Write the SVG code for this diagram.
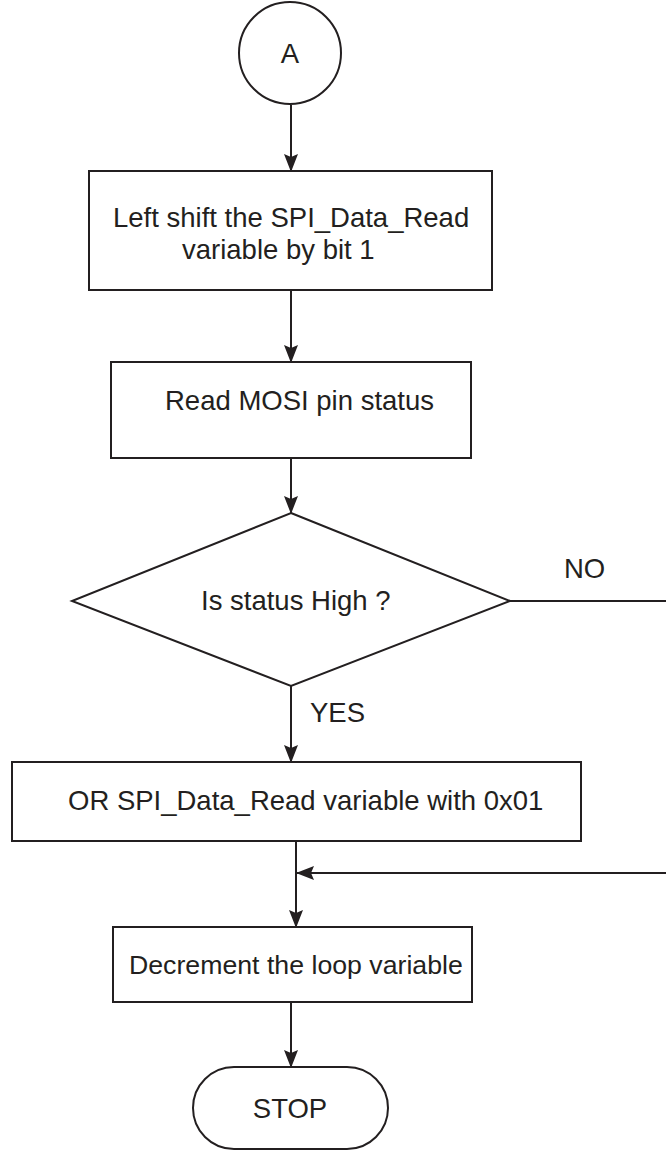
<svg xmlns="http://www.w3.org/2000/svg" width="666" height="1155" viewBox="0 0 666 1155">
<style>
.s{fill:#fff;stroke:#231f20;stroke-width:2}
.c{fill:none;stroke:#231f20;stroke-width:2}
text{font-family:"Liberation Sans",Arial,sans-serif;font-size:27.5px;fill:#231f20}
.m{text-anchor:middle}
</style>
<defs>
<marker id="ah" markerUnits="userSpaceOnUse" markerWidth="18" markerHeight="14" viewBox="0 0 18 14" refX="17" refY="7" orient="auto">
<path d="M0,0 L18,7 L0,14 L3,7 z" fill="#231f20"/>
</marker>
</defs>
<g id="connectors">
<line class="c" x1="291" y1="105" x2="291" y2="171" marker-end="url(#ah)"/>
<line class="c" x1="291" y1="290" x2="291" y2="362" marker-end="url(#ah)"/>
<line class="c" x1="291" y1="458" x2="291" y2="513" marker-end="url(#ah)"/>
<line class="c" x1="291" y1="686" x2="291" y2="762" marker-end="url(#ah)"/>
<line class="c" x1="510" y1="601" x2="666" y2="601"/>
<line class="c" x1="666" y1="873" x2="297" y2="873" marker-end="url(#ah)"/>
<line class="c" x1="296" y1="841" x2="296" y2="927" marker-end="url(#ah)"/>
<line class="c" x1="291" y1="1002" x2="291" y2="1067" marker-end="url(#ah)"/>
<text x="564" y="578">NO</text>
<text x="310" y="722">YES</text>
</g>
<g id="nodeA">
<circle class="s" cx="290" cy="53" r="51"/>
<text class="m" x="290" y="63">A</text>
</g>
<g id="shift">
<rect class="s" x="89" y="171" width="403" height="119"/>
<text x="113" y="227">Left shift the SPI_Data_Read</text>
<text x="182" y="259">variable by bit 1</text>
</g>
<g id="readMOSI">
<rect class="s" x="111" y="362" width="360" height="96"/>
<text x="165" y="410">Read MOSI pin status</text>
</g>
<g id="decision">
<polygon class="s" points="291,513 510,601 291,686 72,601"/>
<text x="201" y="610">Is status High ?</text>
</g>
<g id="orData">
<rect class="s" x="12" y="762" width="569" height="79"/>
<text x="68" y="810">OR SPI_Data_Read variable with 0x01</text>
</g>
<g id="decrement">
<rect class="s" x="113" y="927" width="359" height="75"/>
<text x="129" y="974" style="font-size:26.7px">Decrement the loop variable</text>
</g>
<g id="stop">
<rect class="s" x="193" y="1067" width="195" height="82" rx="41" ry="41"/>
<text class="m" x="290" y="1118">STOP</text>
</g>
</svg>
